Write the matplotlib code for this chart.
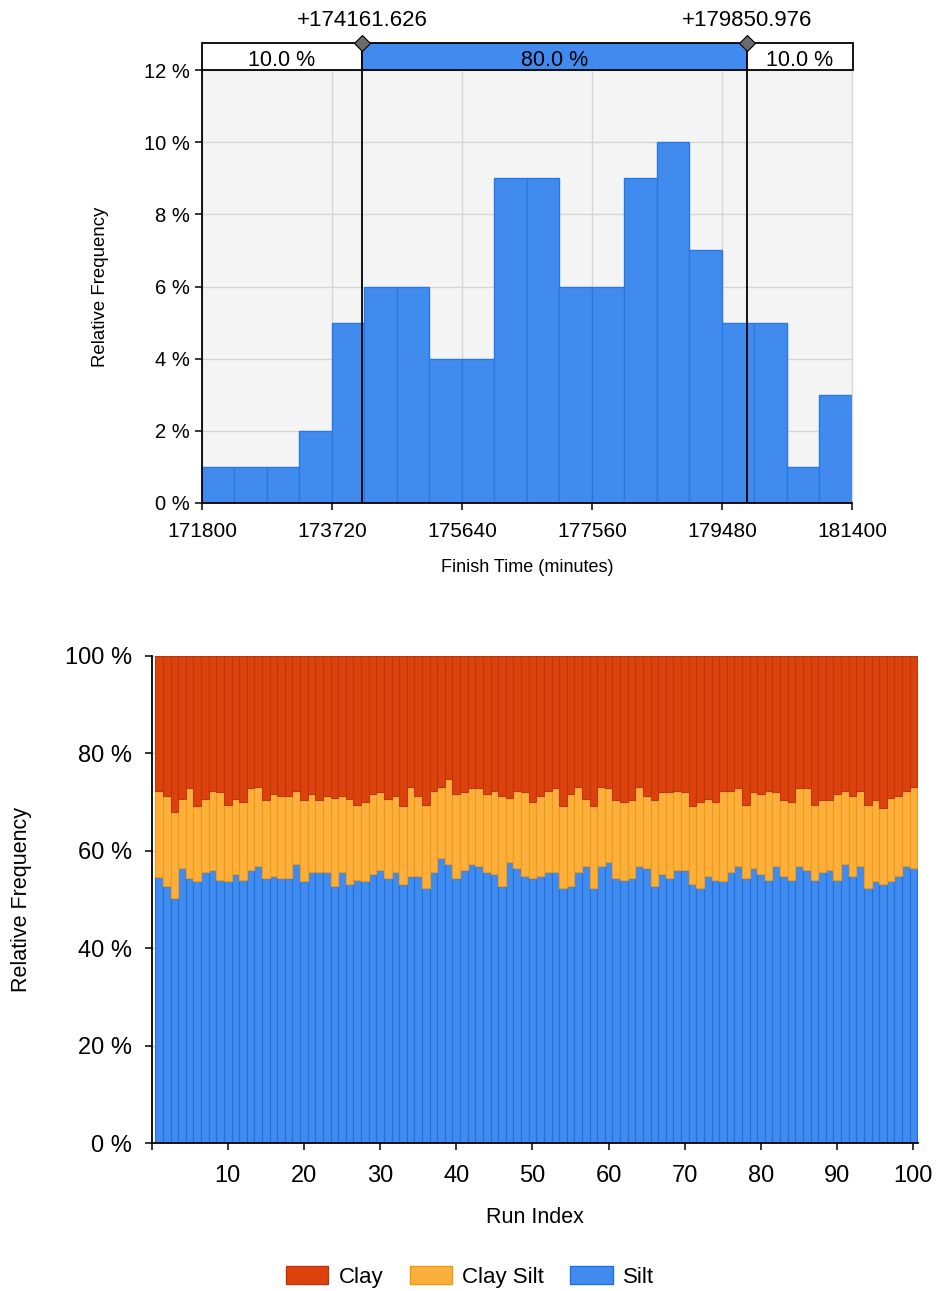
import numpy as np
import matplotlib
matplotlib.use("Agg")
import matplotlib.pyplot as plt
from matplotlib.patches import Rectangle, Patch

plt.rcParams['font.family'] = ['Liberation Sans', 'DejaVu Sans']

# --- finish time histogram ---
bin_start = 171800
bin_width = 480
hist_counts = [1, 1, 1, 2, 5, 6, 6, 4, 4, 9, 9, 6, 6, 9, 10, 7, 5, 5, 1, 3]  # percent of runs
x_ticks = [171800, 173720, 175640, 177560, 179480, 181400]
p10 = 174161.626
p90 = 179850.976
band_labels = ["10.0 %", "80.0 %", "10.0 %"]

# --- soil composition per run (percent) ---
silt = [54.7, 52.8, 50.4, 56.5, 54.5, 53.7, 55.7, 56.1, 54.1, 53.7,
        55.2, 54.1, 56.1, 56.9, 54.5, 54.8, 54.5, 54.5, 57.3, 53.7,
        55.7, 55.7, 55.7, 52.8, 55.7, 53.2, 54.1, 53.7, 55.2, 56.1,
        54.5, 55.7, 53.2, 54.8, 54.8, 52.4, 55.7, 58.6, 57.3, 54.5,
        56.1, 57.3, 56.9, 55.7, 55.2, 52.8, 57.7, 56.5, 54.8, 54.5,
        54.8, 55.7, 55.7, 52.4, 52.8, 55.7, 56.9, 52.4, 56.9, 57.7,
        54.5, 54.1, 54.5, 56.9, 56.5, 52.8, 55.2, 54.5, 56.1, 56.1,
        53.2, 52.4, 54.8, 54.1, 53.7, 55.7, 56.9, 54.5, 56.5, 55.2,
        54.1, 56.9, 54.8, 54.1, 56.9, 56.1, 54.1, 55.7, 56.1, 54.1,
        57.3, 54.8, 56.9, 52.4, 53.7, 53.2, 53.7, 54.8, 56.9, 56.5]
clay_silt = [17.6, 18.4, 17.5, 14.2, 18.3, 15.4, 15.0, 16.2, 17.9, 15.8,
             15.5, 15.9, 16.7, 16.3, 15.9, 16.8, 16.7, 16.7, 15.0, 16.7,
             15.9, 14.7, 15.5, 18.0, 15.5, 17.5, 15.4, 16.3, 16.4, 15.9,
             16.2, 15.5, 15.9, 18.4, 16.4, 17.1, 16.6, 14.6, 17.5, 17.1,
             15.9, 15.5, 15.9, 15.9, 17.1, 18.4, 13.1, 15.8, 17.2, 15.5,
             16.4, 16.6, 17.1, 16.7, 18.8, 17.5, 13.8, 16.7, 16.3, 15.1,
             15.9, 15.9, 15.9, 16.3, 14.7, 17.6, 16.8, 17.5, 16.2, 15.9,
             15.9, 17.6, 15.9, 15.9, 18.6, 16.6, 15.9, 15.0, 15.5, 16.4,
             18.2, 15.1, 15.6, 15.9, 15.9, 16.7, 15.4, 14.7, 14.3, 17.5,
             15.0, 16.4, 15.4, 17.1, 16.7, 15.5, 17.1, 16.4, 15.4, 16.7]
clay = [100 - s - c for s, c in zip(silt, clay_silt)]
runs = np.arange(1, len(silt) + 1)

BLUE = "#418bef"
BLUE_EDGE = "#2a78e2"

fig = plt.figure(figsize=(9.4, 12.91), dpi=100)

# histogram
ax = fig.add_axes([202 / 940, 1 - 503 / 1291, 650 / 940, 433 / 1291])
ax.set_facecolor("#f4f4f4")
lefts = bin_start + bin_width * np.arange(len(hist_counts))
ax.bar(lefts, hist_counts, width=bin_width, align="edge", color=BLUE,
       edgecolor=BLUE_EDGE, linewidth=1, zorder=2)
ax.set_xlim(x_ticks[0], x_ticks[-1])
ax.set_ylim(0, 12)
ax.set_xticks(x_ticks)
ax.set_xticklabels([str(t) for t in x_ticks], fontsize=15)
ax.set_yticks(range(0, 13, 2))
ax.set_yticklabels([f"{v} %" for v in range(0, 13, 2)], fontsize=14.5)
ax.grid(True, color="#d6d6d6", linewidth=1, zorder=0)
ax.set_axisbelow(True)
for side in ("left", "bottom"):
    ax.spines[side].set_color("black")
    ax.spines[side].set_linewidth(1.3)
ax.spines["right"].set_color("#d6d6d6")
ax.spines["top"].set_visible(False)
ax.tick_params(length=5, width=1.1, pad=4)
ax.tick_params(axis="x", pad=9)
ax.set_xlabel("Finish Time (minutes)", fontsize=13, labelpad=13)
ax.set_ylabel("Relative Frequency", fontsize=13.4, labelpad=25)
for p in (p10, p90):
    ax.axvline(p, color="black", linewidth=1.3, zorder=3)

# percentile band above the histogram
band = fig.add_axes([202 / 940, 1 - 70 / 1291, 651 / 940, 27 / 1291])
band.set_xlim(x_ticks[0], x_ticks[-1] + 9600 / 650)
band.set_ylim(0, 1)
band.axis("off")
edges = [x_ticks[0], p10, p90, x_ticks[-1] + 9600 / 650]
fills = ["white", BLUE, "white"]
for i in range(3):
    band.add_patch(Rectangle((edges[i], 0), edges[i + 1] - edges[i], 1,
                             facecolor=fills[i], edgecolor="black",
                             linewidth=1.3, clip_on=False))
    band.text((edges[i] + edges[i + 1]) / 2, 0.36, band_labels[i],
              ha="center", va="center", fontsize=15.5)
for p in (p10, p90):
    band.plot([p], [1], marker="D", markersize=8, color="#6b6b6b",
              markeredgecolor="black", markeredgewidth=0.8, clip_on=False,
              zorder=5)
    band.annotate(f"+{p:.3f}", xy=(p, 1), xytext=(0, 12),
                  textcoords="offset points", ha="center", va="baseline",
                  fontsize=16)

# stacked composition bars
ax2 = fig.add_axes([151.5 / 940, 1 - 1143 / 1291, 766.5 / 940, 487 / 1291])
ax2.bar(runs, silt, width=1.0, color=BLUE, edgecolor="#1b72e0",
        linewidth=0.8, label="Silt", zorder=2)
ax2.bar(runs, clay_silt, width=1.0, bottom=silt, color="#fbb03e",
        edgecolor="#f5980c", linewidth=0.8, label="Clay Silt", zorder=2)
ax2.bar(runs, clay, width=1.0, bottom=np.add(silt, clay_silt),
        color="#de420c", edgecolor="#b8390e", linewidth=0.8, label="Clay",
        zorder=2)
ax2.set_xlim(0, 100.6)
ax2.set_ylim(0, 100)
ax2.set_xticks(range(0, 101, 10))
ax2.set_xticklabels([""] + [str(v) for v in range(10, 101, 10)], fontsize=17)
ax2.set_yticks(range(0, 101, 20))
ax2.set_yticklabels([f"{v} %" for v in range(0, 101, 20)], fontsize=17)
ax2.yaxis.grid(True, color="#d6d6d6", linewidth=1, zorder=0)
ax2.set_axisbelow(True)
for side in ("top", "right"):
    ax2.spines[side].set_visible(False)
for side in ("left", "bottom"):
    ax2.spines[side].set_linewidth(1.3)
ax2.tick_params(length=5, width=1.1, pad=6)
ax2.tick_params(axis="x", pad=11)
ax2.tick_params(axis="y", pad=9)
ax2.set_xlabel("Run Index", fontsize=15.5, labelpad=14)
ax2.set_ylabel("Relative Frequency", fontsize=15.5, labelpad=24)

handles = [Patch(facecolor="#de420c", edgecolor="#b8390e", label="Clay"),
           Patch(facecolor="#fbb03e", edgecolor="#f5980c", label="Clay Silt"),
           Patch(facecolor=BLUE, edgecolor="#1b72e0", label="Silt")]
fig.legend(handles=handles, loc="center", bbox_to_anchor=(0.5, 1 - 1277 / 1291),
           ncol=3, frameon=False, fontsize=16, handlelength=1.9,
           handleheight=0.85, handletextpad=0.45, columnspacing=1.2)

fig.savefig("out.png", dpi=100)
